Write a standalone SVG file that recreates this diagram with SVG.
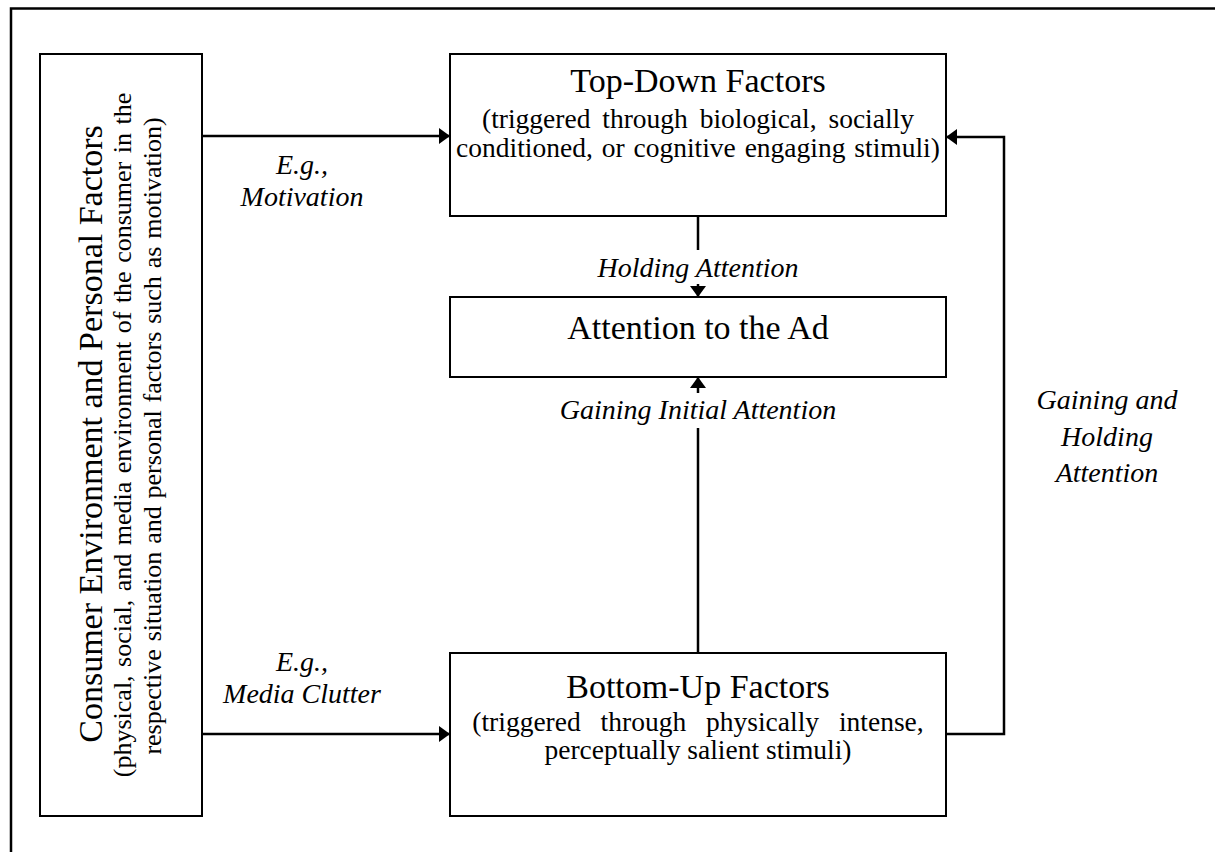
<svg xmlns="http://www.w3.org/2000/svg" width="1215" height="852" viewBox="0 0 1215 852">
  <style>
    .box { fill: #ffffff; stroke: #000000; stroke-width: 2; }
    .frame { fill: none; stroke: #000000; stroke-width: 2.5; }
    .wire { fill: none; stroke: #000000; stroke-width: 2.5; }
    .title { font-family: "Liberation Serif", "Times New Roman", serif; font-size: 34px; fill: #000; text-anchor: middle; }
    .sub { font-family: "Liberation Serif", "Times New Roman", serif; font-size: 26px; fill: #000; text-anchor: middle; }
    .sub2 { font-family: "Liberation Serif", "Times New Roman", serif; font-size: 27.5px; fill: #000; text-anchor: middle; }
    .lbl { font-family: "Liberation Serif", "Times New Roman", serif; font-size: 28px; font-style: italic; fill: #000; text-anchor: middle; }
  </style>
  <defs>
    <marker id="arrow" markerUnits="userSpaceOnUse" markerWidth="12" markerHeight="16" refX="11" refY="8" orient="auto">
      <path d="M0,0 L11,8 L0,16 z" fill="#000000"/>
    </marker>
  </defs>

  <rect width="1215" height="852" fill="#ffffff"/>
  <!-- page frame (top and left edges) -->
  <path class="frame" d="M11,852 L11,8.5 L1215,8.5"/>

  <g id="consumer-environment">
    <rect class="box" x="40" y="54" width="162" height="762"/>
    <text class="title" transform="translate(102,434) rotate(-90)">Consumer Environment and Personal Factors</text>
    <text class="sub" transform="translate(131,435) rotate(-90)" word-spacing="2">(physical, social, and media environment of the consumer in the</text>
    <text class="sub" transform="translate(161,436) rotate(-90)" word-spacing="1.4">respective situation and personal factors such as motivation)</text>
  </g>

  <g id="top-down">
    <rect class="box" x="450" y="54" width="496" height="162"/>
    <text class="title" x="698" y="92">Top-Down Factors</text>
    <text class="sub2" x="698" y="128" word-spacing="5">(triggered through biological, socially</text>
    <text class="sub2" x="698" y="157" word-spacing="2">conditioned, or cognitive engaging stimuli)</text>
  </g>

  <g id="attention">
    <rect class="box" x="450" y="297" width="496" height="80"/>
    <text class="title" x="698" y="339">Attention to the Ad</text>
  </g>

  <g id="bottom-up">
    <rect class="box" x="450" y="653" width="496" height="163"/>
    <text class="title" x="698" y="698">Bottom-Up Factors</text>
    <text class="sub2" x="698" y="731" word-spacing="13">(triggered through physically intense,</text>
    <text class="sub2" x="698" y="759">perceptually salient stimuli)</text>
  </g>

  <g id="connectors">
    <line class="wire" x1="202" y1="136" x2="450" y2="136" marker-end="url(#arrow)"/>
    <line class="wire" x1="202" y1="734" x2="450" y2="734" marker-end="url(#arrow)"/>
    <line class="wire" x1="698" y1="216" x2="698" y2="250"/>
    <line class="wire" x1="698" y1="284" x2="698" y2="297" marker-end="url(#arrow)"/>
    <line class="wire" x1="698" y1="653" x2="698" y2="428"/>
    <line class="wire" x1="698" y1="393" x2="698" y2="377" marker-end="url(#arrow)"/>
    <polyline class="wire" points="946,734 1004,734 1004,137 946,137" marker-end="url(#arrow)"/>
  </g>

  <g id="labels">
    <text class="lbl" x="302" y="174">E.g.,</text>
    <text class="lbl" x="302" y="206">Motivation</text>
    <text class="lbl" x="302" y="671">E.g.,</text>
    <text class="lbl" x="302" y="703">Media Clutter</text>
    <text class="lbl" x="698" y="277">Holding Attention</text>
    <text class="lbl" x="698" y="419">Gaining Initial Attention</text>
    <text class="lbl" x="1107" y="409">Gaining and</text>
    <text class="lbl" x="1107" y="446">Holding</text>
    <text class="lbl" x="1107" y="482">Attention</text>
  </g>
</svg>
